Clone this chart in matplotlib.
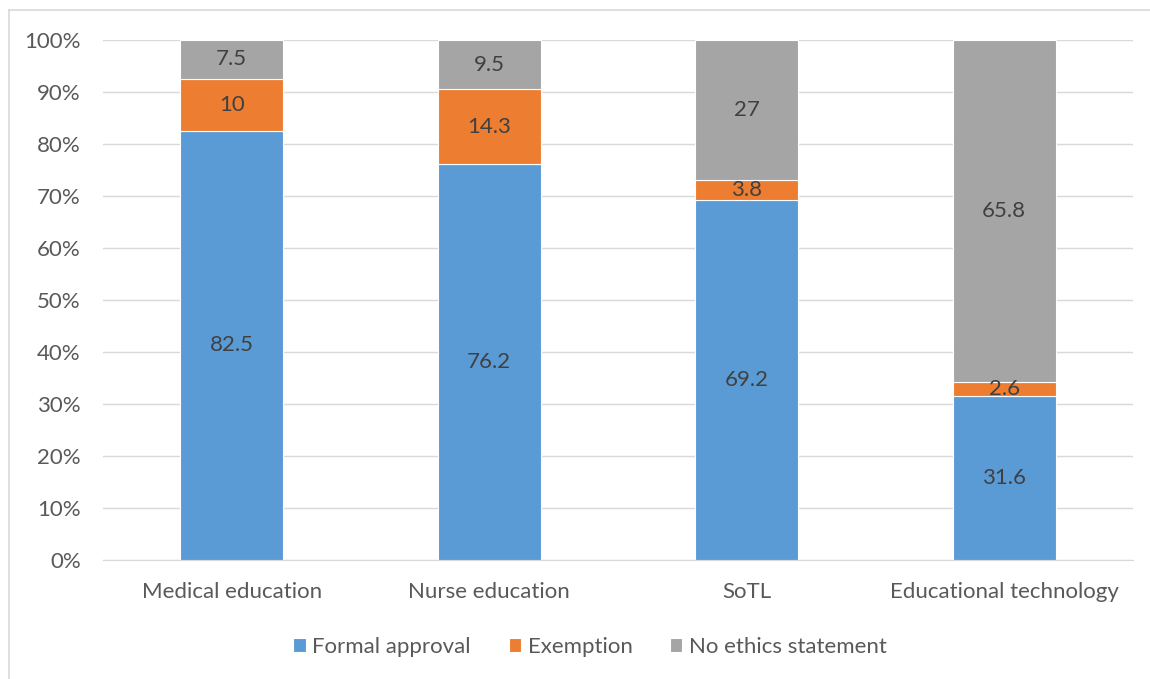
import matplotlib.pyplot as plt
import numpy as np
from matplotlib.lines import Line2D

plt.rcParams['font.family'] = ['Lato', 'DejaVu Sans']

categories = ['Medical education', 'Nurse education', 'SoTL', 'Educational technology']
formal_approval = [82.5, 76.2, 69.2, 31.6]
exemption = [10, 14.3, 3.8, 2.6]
no_statement = [7.5, 9.5, 27, 65.8]
series_names = ['Formal approval', 'Exemption', 'No ethics statement']
colors = ['#5B9BD5', '#ED7D31', '#A5A5A5']

fig = plt.figure(figsize=(11.5, 6.79), dpi=100)
ax = fig.add_axes([103 / 1150, 1 - 560 / 679, 1030 / 1150, 520 / 679])

x = np.arange(len(categories))
bottom = np.zeros(len(categories))
for vals, name, col in zip([formal_approval, exemption, no_statement], series_names, colors):
    vals = np.array(vals, dtype=float)
    ax.bar(x, vals, 0.4, bottom=bottom, color=col, label=name,
           edgecolor='white', linewidth=0.8, zorder=3)
    for xi, b, v in zip(x, bottom, vals):
        ax.text(xi, b + v / 2, f'{v:g}', ha='center', va='center',
                fontsize=16, color='#404040', zorder=4)
    bottom += vals

ax.set_xlim(-0.5, 3.5)
ax.set_ylim(0, 100)
ax.set_yticks(np.arange(0, 101, 10))
ax.set_yticklabels([f'{v}%' for v in range(0, 101, 10)])
ax.set_xticks(x)
ax.set_xticklabels(categories)
ax.tick_params(axis='both', length=0, labelsize=16, colors='#595959')
ax.tick_params(axis='x', pad=16)
ax.tick_params(axis='y', pad=16)
ax.yaxis.grid(True, color='#D9D9D9', linewidth=1, zorder=0)
for s in ['top', 'right', 'left']:
    ax.spines[s].set_visible(False)
ax.spines['bottom'].set_color('#D9D9D9')

leg = ax.legend(loc='center', bbox_to_anchor=(0.473, -0.167), ncol=3,
                frameon=False, fontsize=16, handlelength=0.55, handleheight=0.55,
                handletextpad=0.3, columnspacing=1.7)
for t in leg.get_texts():
    t.set_color('#595959')

# chart frame edges (left and top visible)
fig.add_artist(Line2D([9 / 1150, 9 / 1150], [0, 1 - 10 / 679], color='#D9D9D9', linewidth=1.2))
fig.add_artist(Line2D([9 / 1150, 1], [1 - 10 / 679, 1 - 10 / 679], color='#D9D9D9', linewidth=1.2))

fig.savefig('out.png', dpi=100)
